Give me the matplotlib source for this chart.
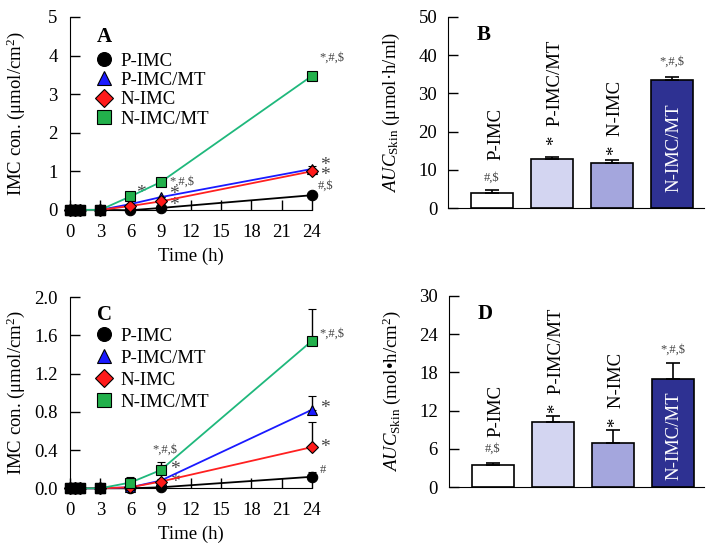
import numpy as np
import matplotlib
matplotlib.use("Agg")
import matplotlib.pyplot as plt
from matplotlib.lines import Line2D

plt.rcParams['font.family'] = ['Liberation Serif', 'DejaVu Serif']
plt.rcParams['mathtext.fontset'] = 'custom'
plt.rcParams['mathtext.rm'] = 'Liberation Serif'
plt.rcParams['mathtext.it'] = 'Liberation Serif:italic'

# time points (h)
time = [0, 0.5, 1, 3, 6, 9, 24]
groups = ["P-IMC", "P-IMC/MT", "N-IMC", "N-IMC/MT"]

# panel A: skin IMC concentration (umol/cm2)
a_pimc = [0, 0, 0, 0, -0.01, 0.05, 0.38]
a_pimc_mt = [0, 0, 0, 0, 0.15, 0.33, 1.06]
a_nimc = [0, 0, 0, 0, 0.10, 0.22, 1.00]
a_nimc_mt = [0, 0, 0, 0, 0.35, 0.72, 3.47]
a_err = [[0, 0, 0, 0, 0, 0, 0.02],
         [0, 0, 0, 0, 0, 0, 0.08],
         [0, 0, 0, 0, 0, 0, 0.04],
         [0, 0, 0, 0, 0, 0, 0.08]]

# panel C
c_pimc = [0, 0, 0, 0, 0.0, 0.01, 0.12]
c_pimc_mt = [0, 0, 0, 0, 0.01, 0.08, 0.82]
c_nimc = [0, 0, 0, 0, 0.01, 0.07, 0.43]
c_nimc_mt = [0, 0, 0, 0, 0.06, 0.19, 1.54]
c_err = [[0, 0, 0, 0, 0, 0, 0.05],
         [0, 0, 0, 0, 0, 0.02, 0.14],
         [0, 0, 0, 0, 0, 0.02, 0.26],
         [0, 0, 0, 0, 0.06, 0.08, 0.33]]

# panel B / D: AUC skin
b_auc = [4.1, 12.9, 11.9, 33.5]
b_err = [0.6, 0.5, 0.8, 0.8]
d_auc = [3.5, 10.3, 6.9, 16.9]
d_err = [0.3, 0.8, 2.0, 2.6]

line_colors = ["black", "#1a1aff", "#ff2020", "#1fb87c"]
marker_colors = ["black", "#1a1aff", "#ff1a1a", "#22b04b"]
markers = ["o", "^", "D", "s"]
msizes = [7.5, 7.5, 6.5, 7.5]
bar_colors = ["white", "#d3d5f1", "#a4a6dd", "#2e3192"]

fig = plt.figure(figsize=(7.15, 5.48), dpi=100)
axA = fig.add_axes([0.098, 0.617, 0.338, 0.352])
axB = fig.add_axes([0.627, 0.620, 0.357, 0.349])
axC = fig.add_axes([0.098, 0.109, 0.338, 0.349])
axD = fig.add_axes([0.628, 0.111, 0.357, 0.349])

gray = "#444444"


def line_panel(ax, series, errs, ymax, yticks, ytlabels, letter, leg_y, leg_sp, let_y):
    for i, ys in enumerate(series):
        ax.errorbar(time, ys, yerr=[np.zeros(len(ys)), errs[i]], color=line_colors[i],
                    ecolor="black", elinewidth=1, capsize=3, capthick=1,
                    marker=markers[i], markersize=msizes[i], markerfacecolor=marker_colors[i],
                    markeredgecolor="black", markeredgewidth=0.8, lw=1.3,
                    clip_on=False, zorder=3 + i)
    # early time points drawn as black squares
    ax.plot(time[:4], series[3][:4], ls="none", marker="s", markersize=7.5,
            color="black", clip_on=False, zorder=10)
    ax.set_xlim(0, 24)
    ax.set_ylim(0, ymax)
    ax.set_xticks([0, 3, 6, 9, 12, 15, 18, 21, 24])
    ax.set_yticks(yticks)
    ax.set_yticklabels(ytlabels)
    ax.spines["top"].set_visible(False)
    ax.spines["right"].set_visible(False)
    ax.tick_params(direction="in", length=7, labelsize=13.5, width=1)
    ax.tick_params(axis="x", pad=10)
    ax.tick_params(axis="y", pad=9)
    ax.set_xlabel("Time (h)", fontsize=13.5, labelpad=5)
    ax.set_ylabel("IMC con. (μmol/cm$^2$)", fontsize=13.5)
    ax.yaxis.set_label_coords(-0.178, 0.5)
    handles = [Line2D([], [], ls="none", marker=markers[i], markersize=msizes[i] + 2.5,
                      markerfacecolor=marker_colors[i], markeredgecolor="black",
                      markeredgewidth=0.8, label=groups[i]) for i in range(4)]
    ax.legend(handles=handles, loc="upper left", bbox_to_anchor=(0.07, leg_y), frameon=False,
              fontsize=13.5, handlelength=1.0, handletextpad=0.4,
              labelspacing=leg_sp, borderaxespad=0)
    ax.text(0.11, let_y, letter, transform=ax.transAxes, fontsize=15, fontweight="bold",
            ha="left", va="center")


line_panel(axA, [a_pimc, a_pimc_mt, a_nimc, a_nimc_mt], a_err, 5,
           [0, 1, 2, 3, 4, 5], ["0", "1", "2", "3", "4", "5"], "A", 0.855, 0.12, 0.895)
line_panel(axC, [c_pimc, c_pimc_mt, c_nimc, c_nimc_mt], c_err, 2.0,
           [0, 0.4, 0.8, 1.2, 1.6, 2.0], ["0.0", "0.4", "0.8", "1.2", "1.6", "2.0"], "C",
           0.88, 0.26, 0.905)

# significance marks, panel A
axA.text(7.0, 0.42, "*", fontsize=14, color=gray, ha="center", va="center")
axA.text(9.9, 0.74, "*,#,$", fontsize=9, color=gray, ha="left", va="center")
axA.text(10.3, 0.40, "*", fontsize=14, color=gray, ha="center", va="center")
axA.text(10.3, 0.12, "*", fontsize=14, color=gray, ha="center", va="center")
axA.text(24.8, 3.95, "*,#,$", fontsize=9, color=gray, ha="left", va="center")
axA.text(25.3, 1.15, "*", fontsize=14, color=gray, ha="center", va="center")
axA.text(25.3, 0.88, "*", fontsize=14, color=gray, ha="center", va="center")
axA.text(24.6, 0.62, "#,$", fontsize=9, color=gray, ha="left", va="center")

# significance marks, panel C
axC.text(9.4, 0.40, "*,#,$", fontsize=9, color=gray, ha="center", va="center")
axC.text(10.4, 0.20, "*", fontsize=14, color=gray, ha="center", va="center")
axC.text(10.4, 0.06, "*", fontsize=14, color=gray, ha="center", va="center")
axC.text(24.8, 1.62, "*,#,$", fontsize=9, color=gray, ha="left", va="center")
axC.text(25.3, 0.83, "*", fontsize=14, color=gray, ha="center", va="center")
axC.text(25.3, 0.43, "*", fontsize=14, color=gray, ha="center", va="center")
axC.text(24.8, 0.19, "#", fontsize=9, color=gray, ha="left", va="center")


def bar_panel(ax, vals, errs, ymax, yticks, ylabel, letter, notes, labels_pos, inner_pos):
    x = np.arange(1, 5)
    ax.bar(x, vals, width=0.7, color=bar_colors, edgecolor="black", linewidth=1.2,
           yerr=[np.zeros(4), errs], capsize=5, error_kw=dict(elinewidth=1.2, capthick=1.2),
           zorder=2)
    ax.set_xlim(0.275, 4.52)
    ax.set_ylim(0, ymax)
    ax.set_xticks([])
    ax.set_yticks(yticks)
    ax.spines["top"].set_visible(False)
    ax.spines["right"].set_visible(False)
    ax.tick_params(axis="y", direction="in", length=7, labelsize=13.5, width=1, pad=8)
    ax.set_ylabel(ylabel, fontsize=13.5)
    ax.yaxis.set_label_coords(-0.18, 0.5)
    ax.text(0.14, 0.905, letter, transform=ax.transAxes, fontsize=15, fontweight="bold",
            ha="center", va="center")
    # notes above bars
    for xi, (txt, y) in zip(x, notes):
        ax.text(xi, y, txt, fontsize=9, color=gray, ha="center", va="center")
    # rotated group labels
    for xi, (txt, y) in zip(x[:3], labels_pos):
        ax.text(xi + 0.06, y, txt, rotation=90, fontsize=13.5, ha="center", va="bottom")
    ax.text(4 + 0.02, inner_pos, groups[3], rotation=90, fontsize=13.5, color="white",
            ha="center", va="center")


bar_panel(axB, b_auc, b_err, 50, [0, 10, 20, 30, 40, 50],
          "$AUC_{\\mathrm{Skin}}$ (μmol·h/ml)", "B",
          [("#,$", 8.0), ("", 0), ("", 0), ("*,#,$", 38.4)],
          [("P-IMC", 12.6), ("*  P-IMC/MT", 16.6), ("*  N-IMC", 13.8)], 15.8)
bar_panel(axD, d_auc, d_err, 30, [0, 6, 12, 18, 24, 30],
          "$AUC_{\\mathrm{Skin}}$ (mol•h/cm$^2$)", "D",
          [("#,$", 6.1), ("", 0), ("", 0), ("*,#,$", 21.6)],
          [("P-IMC", 7.9), ("*  P-IMC/MT", 11.6), ("*  N-IMC", 9.4)], 8.0)

fig.savefig("out.png", dpi=100)
